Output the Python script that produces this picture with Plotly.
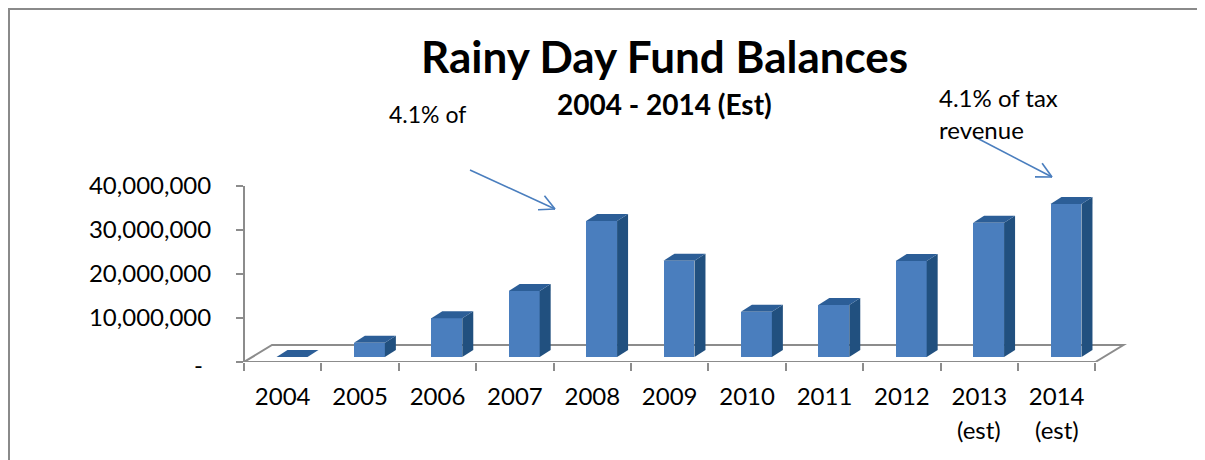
import math
import plotly.graph_objects as go

# ---- data ----
years = ["2004", "2005", "2006", "2007", "2008", "2009", "2010", "2011", "2012", "2013", "2014"]
balances = [0, 3.25e6, 8.8e6, 15.0e6, 30.9e6, 21.9e6, 10.3e6, 11.8e6, 21.8e6, 30.5e6, 34.8e6]
est_flags = [False] * 9 + [True, True]
y_ticks = [0, 10e6, 20e6, 30e6, 40e6]
y_tick_text = ["", "10,000,000", "20,000,000", "30,000,000", "40,000,000"]
title_text = "Rainy Day Fund Balances"
subtitle_text = "2004 - 2014 (Est)"
note_left = "4.1% of"
note_right = ["4.1% of tax", "revenue"]

# ---- geometry (screen pixels; page body has an 8px margin) ----
W, H = 1197, 452
SCR_L, SCR_B, SCR_T, SCR_R = 244, 362, 150, 1130   # plot area on screen
L = SCR_L - 8
T = SCR_T - 8
B = H - (SCR_B - 8)
R = W - (SCR_R - 8)
PLOT_W = SCR_R - SCR_L
PLOT_H = SCR_B - SCR_T
PX_CAT = 77.4
PX_M = 4.4 / 1e6
X_MAX = -0.5 + PLOT_W / PX_CAT
Y_MAX = PLOT_H / PX_M

def px(x):
    return (x - SCR_L) / PLOT_W

def py(y):
    return (SCR_B - y) / PLOT_H

FONT = "Lato"
FRONT = "#4A7EBE"
SIDE = "#21507F"
TOP = "#2C5E97"
GREY = "#8C8C8C"
ARROW = "#4A7EBE"

BASE = 5 / PX_M           # bars sit slightly back on the floor
OFF, BW = -0.08, 0.40     # front face relative to category centre
DX, DY = 11 / PX_CAT, 7 / PX_M
FDX, FDY = 28 / PX_CAT, 17 / PX_M

fig = go.Figure()

# front faces
fig.add_trace(go.Bar(
    x=years, y=balances, base=BASE, offset=OFF, width=BW,
    marker=dict(color=FRONT, line=dict(width=0)), showlegend=False, hoverinfo="skip",
))

# side and top faces (on an overlaid linear axis)
for i, v in enumerate(balances):
    xl = i + OFF
    xr = xl + BW
    b0 = BASE
    t0 = BASE + v
    if v > 0:
        fig.add_trace(go.Scatter(
            x=[xr, xr + DX, xr + DX, xr, xr], y=[b0, b0 + DY, t0 + DY, t0, b0],
            xaxis="x2", fill="toself", fillcolor=SIDE, mode="lines",
            line=dict(width=0, color=SIDE), showlegend=False, hoverinfo="skip"))
    fig.add_trace(go.Scatter(
        x=[xl, xr, xr + DX, xl + DX, xl], y=[t0, t0, t0 + DY, t0 + DY, t0],
        xaxis="x2", fill="toself", fillcolor=TOP, mode="lines",
        line=dict(width=0, color=TOP), showlegend=False, hoverinfo="skip"))

shapes = []
n = len(years)
fx0, fx1 = -0.5, n - 0.5
shapes.append(dict(
    type="path", xref="x2", yref="y", layer="below",
    path=f"M {fx0},0 L {fx1},0 L {fx1 + FDX},{FDY} L {fx0 + FDX},{FDY} Z",
    line=dict(color=GREY, width=2), fillcolor="white"))
shapes.append(dict(type="line", xref="paper", yref="y", x0=0, x1=0, y0=0, y1=y_ticks[-1],
                   line=dict(color=GREY, width=2), layer="below"))
# chart border (left and top edges visible)
shapes.append(dict(type="rect", xref="paper", yref="paper", x0=px(9), x1=px(1260),
                   y0=py(520), y1=py(9), line=dict(color="#8A8A8A", width=2)))

def arrow(x0, y0, x1, y1, head=17, ang=27):
    out = [dict(type="line", xref="paper", yref="paper", x0=px(x0), y0=py(y0), x1=px(x1), y1=py(y1),
                line=dict(color=ARROW, width=1.6))]
    a = math.atan2(y1 - y0, x1 - x0)
    for s in (1, -1):
        b = a + math.pi + s * math.radians(ang)
        hx, hy = x1 + head * math.cos(b), y1 + head * math.sin(b)
        out.append(dict(type="line", xref="paper", yref="paper", x0=px(x1), y0=py(y1), x1=px(hx), y1=py(hy),
                        line=dict(color=ARROW, width=1.6)))
    return out

shapes += arrow(470, 170, 555, 209)
shapes += arrow(975, 137, 1052, 177)

def txt(text, x, y, size, anchor="center", bold=False):
    t = f"<b>{text}</b>" if bold else text
    return dict(text=t, x=px(x), y=py(y), xref="paper", yref="paper", showarrow=False,
                font=dict(family=FONT, size=size, color="black"), xanchor=anchor, yanchor="middle")

annotations = [
    txt(title_text, 664, 56, 44, bold=True),
    txt(subtitle_text, 664, 104, 28, bold=True),
    txt(note_left, 387, 114, 23, anchor="left"),
    txt(note_right[0], 937, 97, 24, anchor="left"),
    txt(note_right[1], 937, 129, 24, anchor="left"),
    txt("-", 198, 364, 24),
]
for i, e in enumerate(est_flags):
    if e:
        annotations.append(txt("(est)", SCR_L + PX_CAT * (i + 0.5), 429, 24))

fig.update_layout(
    width=W, height=H,
    margin=dict(l=L, r=R, t=T, b=B, pad=0),
    paper_bgcolor="white", plot_bgcolor="white",
    font=dict(family=FONT, size=24, color="black"),
    showlegend=False, bargap=0,
    xaxis=dict(type="category", range=[-0.5, X_MAX], tickson="boundaries", ticks="outside",
               ticklen=8, tickwidth=2, tickcolor=GREY, showgrid=False, zeroline=False,
               showline=False, tickfont=dict(family=FONT, size=24), fixedrange=True,
               ticklabelstandoff=18),
    xaxis2=dict(overlaying="x", range=[-0.5, X_MAX], visible=False, fixedrange=True),
    yaxis=dict(range=[0, Y_MAX], tickvals=y_ticks, ticktext=y_tick_text, ticks="outside",
               ticklen=7, tickwidth=2, tickcolor=GREY, showgrid=False, zeroline=False,
               showline=False, tickfont=dict(family=FONT, size=24), fixedrange=True,
               ticklabelstandoff=20),
    shapes=shapes, annotations=annotations,
)

fig.write_html("out.html")
